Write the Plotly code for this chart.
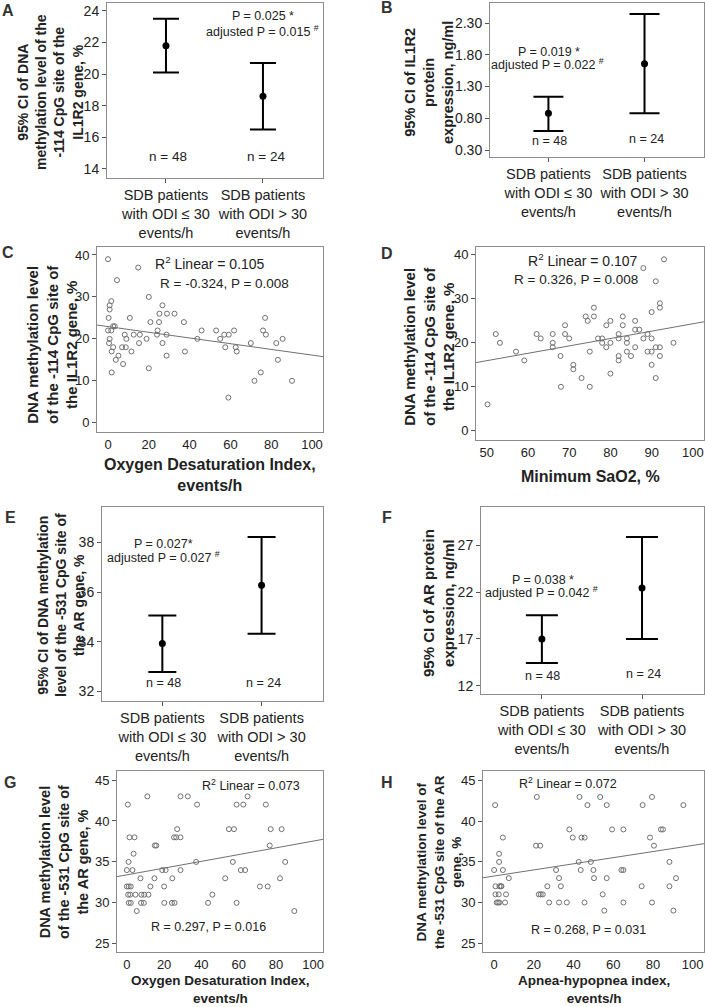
import numpy as np
import plotly.graph_objects as go

W, H = 705, 1007

# --- categorical CI panels (A, B, E, F) ---
groups = ["SDB patients<br>with ODI ≤ 30<br>events/h", "SDB patients<br>with ODI > 30<br>events/h"]
group_n = ["n = 48", "n = 24"]

a_mean = [21.8, 18.6]
a_low = [20.1, 16.5]
a_high = [23.5, 20.7]

b_mean = [0.88, 1.66]
b_low = [0.60, 0.88]
b_high = [1.14, 2.44]

e_mean = [33.93, 36.27]
e_low = [32.79, 34.32]
e_high = [35.06, 38.21]

f_mean = [16.99, 22.44]
f_low = [14.42, 17.00]
f_high = [19.52, 27.89]

a_ticks = [14, 16, 18, 20, 22, 24]
b_ticks = [0.30, 0.80, 1.30, 1.80, 2.30]
e_ticks = [32, 34, 36, 38]
f_ticks = [12, 17, 22, 27]

# --- scatter panels (C, D, G, H) ---
c_odi = [0, 14.8, 4.4, 20, 1.6, 0.8, 0.8, 26.7, 0.3, 10.7, 25.2, 28.9, 32.6, 25, 20.8, 37.2,
         0, 1.6, 2.5, 3.3, 24.3, 45.9, 53, 61.8, 76, 8.2, 12.6, 15.6, 24, 28.7, 57, 59.2, 77.4,
         0.8, 9, 18.9, 43.8, 55, 85.6, 0.5, 15.2, 26.7, 70, 82.5, 2.5, 6.9, 8.7, 57.5, 62.6, 77,
         1.8, 11.5, 37.7, 63.1, 5.1, 28.7, 3.8, 83.3, 7.4, 20, 1.8, 74.9, 71.8, 90.2, 59]
c_meth = [39, 37, 34, 30, 29, 28, 27, 28, 25, 25, 26, 26, 26, 24, 24, 24,
          22, 22, 23, 23, 22, 22, 22, 22, 22, 21, 21, 21, 21, 21, 21, 21, 21,
          20, 20, 20, 20, 20, 20, 19, 19, 19, 19, 19, 18, 18, 18, 18, 18, 25,
          17, 17, 17, 17, 16, 16, 15, 15, 14, 13, 12, 12, 10, 10, 6]

d_sao2 = [50.2, 52.2, 53.2, 57.1, 59.1, 62.1, 63.1, 66, 66, 66, 67.9, 68, 69, 69, 70, 71, 71,
          73, 74, 74.5, 75, 75, 76, 76, 77, 78, 78, 79, 79, 80, 80, 80, 82, 82, 82, 82, 83, 83,
          84, 84, 84, 85, 86, 86, 87, 86, 88, 88, 89, 89, 90, 90, 90, 90, 91, 91, 91, 92, 92,
          92, 92, 93, 95.3]
d_meth = [6, 22, 20, 18, 16, 22, 21, 22, 20, 19, 17, 10, 24, 22, 21, 15, 14,
          12, 26, 25, 18, 10, 28, 26, 21, 21, 20, 24, 19, 25, 20, 13, 22, 21, 17, 16, 26, 24,
          21, 20, 18, 17, 25, 23, 23, 19, 37, 21, 22, 18, 27, 21, 18, 15, 34, 19, 12, 29, 28,
          19, 17, 39, 20]

g_odi = [11, 28.8, 32.7, 64.8, 0.5, 37.7, 58.9, 62.5, 74.6, 27, 54.8, 57.5, 77.2, 83.1,
         1.4, 4.1, 25.3, 26.5, 28.8, 15, 15.8, 76.7, 3.6, 0.9, 37.2, 56.9, 85, 0, 3, 19, 20.8,
         28.8, 61.2, 63.5, 7.3, 14.8, 24.4, 52.8, 82.2, 0, 1, 2.1, 12.6, 20, 71.4, 75.6,
         0.7, 1.8, 4.6, 7.8, 9.3, 11.6, 45.9, 1, 2.1, 7.6, 9.1, 20.1, 24.2, 25.6, 43.6, 58.9,
         5.3, 89.9]
g_meth = [43, 43, 43, 43, 42, 42, 42, 42, 42, 39, 39, 39, 39, 39,
          38, 38, 38, 38, 38, 37, 37, 37, 36, 35, 35, 35, 35, 34, 34, 34, 34,
          34, 34, 34, 33, 33, 33, 33, 33, 32, 32, 32, 32, 32, 32, 32,
          31, 31, 31, 31, 31, 31, 31, 30, 30, 30, 30, 30, 30, 30, 30, 30,
          29, 29]

h_ahi = [0.5, 21.5, 43, 53.4, 79.5, 47, 56.7, 74.8, 95.3, 37.9, 59.4, 65.1, 84, 85,
         4.4, 39.6, 44, 45.6, 78.5, 21.1, 23.2, 80.5, 2.5, 2.5, 42.6, 48.7, 88.3,
         0, 4.4, 31.2, 43.6, 50, 64.1, 65.1, 7.4, 32.7, 50.3, 56.7, 91.6,
         0.7, 2.7, 3.4, 3.7, 26.8, 33.6, 74.3, 88.3, 0.7, 2.3, 6, 22.5, 23.5, 24.5, 54.7,
         1.3, 2, 2.7, 5.5, 27.7, 32.7, 36.6, 45.5, 65.1, 79.5, 55.5, 90.3]
h_meth = [42, 43, 43, 43, 43, 42, 42, 42, 42, 39, 39, 39, 39, 39,
          38, 38, 38, 38, 38, 37, 37, 37, 36, 35, 35, 35, 35,
          34, 34, 34, 34, 34, 34, 34, 33, 33, 33, 33, 33,
          32, 32, 32, 32, 32, 32, 32, 32, 31, 31, 31, 31, 31, 31, 31,
          30, 30, 30, 30, 30, 30, 30, 30, 30, 30, 29, 29]

# fitted lines: (intercept, slope)
c_fit = (22.93, -0.068)
d_fit = (7.54, 0.168)
g_fit = (33.42, 0.0412)
h_fit = (33.26, 0.0377)

FONT = "Liberation Sans"
TXT = "#222222"
FRAME = "#8c8c8c"


def xd(l, r):
    return [l / W, r / W]


def yd(t, b):
    return [1 - b / H, 1 - t / H]


def px(x, y):
    return x / W, 1 - y / H


fig = go.Figure()
annos = []


def note(x, y, text, size, bold=False, angle=0, color=TXT):
    xx, yy = px(x, y)
    if bold:
        text = "<b>" + text + "</b>"
    annos.append(dict(x=xx, y=yy, xref="paper", yref="paper", text=text, showarrow=False,
                      xanchor="center", yanchor="middle", textangle=angle,
                      font=dict(family=FONT, size=size, color=color)))


def base_axes(n, box, xr, yr, yticks, yfmt=None, cat=False):
    l, r, t, b = box
    ax = dict(domain=xd(l, r), range=xr, showline=True, mirror=True, linecolor=FRAME,
              linewidth=1, showgrid=False, zeroline=False, anchor="y%d" % n)
    ay = dict(domain=yd(t, b), range=yr, showline=True, mirror=True, linecolor=FRAME,
              linewidth=1, showgrid=False, zeroline=False, anchor="x%d" % n,
              tickvals=yticks, ticks="outside", ticklen=4, tickcolor="#555",
              tickfont=dict(family=FONT, size=14 if cat else 13, color=TXT))
    if yfmt:
        ay["ticktext"] = [format(v, yfmt) for v in yticks]
    if cat:
        ax.update(tickvals=[0, 1], ticktext=groups, ticks="outside", ticklen=4, tickcolor="#555",
                  tickfont=dict(family=FONT, size=14.5, color=TXT))
    else:
        ax.update(tickvals=[0, 20, 40, 60, 80, 100] if n != 4 else [50, 60, 70, 80, 90, 100],
                  ticks="", tickfont=dict(family=FONT, size=13, color=TXT))
    key = "" if n == 1 else str(n)
    fig.layout["xaxis" + key] = ax
    fig.layout["yaxis" + key] = ay


def ci_panel(n, box, yr, yticks, mean, low, high, cap, yfmt=None):
    base_axes(n, box, [-0.608, 1.619], yr, yticks, yfmt, cat=True)
    up = [h - m for h, m in zip(high, mean)]
    dn = [m - lo for m, lo in zip(mean, low)]
    fig.add_trace(go.Scatter(x=[0, 1], y=mean, mode="markers",
                             marker=dict(color="black", size=7),
                             error_y=dict(type="data", symmetric=False, array=up, arrayminus=dn,
                                          color="black", thickness=2, width=cap),
                             xaxis="x%d" % n, yaxis="y%d" % n, hoverinfo="skip"))


def scatter_panel(n, box, xr, yr, yticks, xs, ys, fit):
    base_axes(n, box, xr, yr, yticks)
    fig.add_trace(go.Scatter(x=xs, y=ys, mode="markers",
                             marker=dict(symbol="circle-open", size=5, color="#707070",
                                         line=dict(width=1)),
                             xaxis="x%d" % n, yaxis="y%d" % n))
    lx = np.array(xr)
    fig.add_trace(go.Scatter(x=lx, y=fit[0] + fit[1] * lx, mode="lines",
                             line=dict(color="#707070", width=1),
                             xaxis="x%d" % n, yaxis="y%d" % n))


# A
ci_panel(1, (107, 323, 3, 178), [13.43, 24.5], a_ticks, a_mean, a_low, a_high, 13)
# B
ci_panel(2, (490, 704, 3, 157), [0.19, 2.615], b_ticks, b_mean, b_low, b_high, 15, ".2f")
# C
scatter_panel(3, (97, 323, 247, 432), [-5.4, 105.4], [-2.2, 41.9], [0, 10, 20, 30, 40],
              c_odi, c_meth, c_fit)
# D
scatter_panel(4, (476, 704, 247, 440), [47.4, 102.7], [-2.1, 41.8], [0, 10, 20, 30, 40],
              d_sao2, d_meth, d_fit)
# E
ci_panel(5, (102, 323, 507, 701), [31.62, 39.42], e_ticks, e_mean, e_low, e_high, 14)
# F
ci_panel(6, (481, 704, 507, 694), [11.11, 31.1], f_ticks, f_mean, f_low, f_high, 16)
# G
scatter_panel(7, (117, 323, 771, 952), [-5.3, 105.3], [24.0, 46.1], [25, 30, 35, 40, 45],
              g_odi, g_meth, g_fit)
# H
scatter_panel(8, (483, 704, 771, 952), [-5.6, 105.7], [23.9, 46.2], [25, 30, 35, 40, 45],
              h_ahi, h_meth, h_fit)

# panel letters
for letter, x, y in [("A", 8, 10), ("B", 387, 8), ("C", 8, 252), ("D", 387, 253),
                     ("E", 10, 517), ("F", 387, 517), ("G", 10, 782), ("H", 387, 782)]:
    note(x, y, letter, 16, bold=True, color="#333333")

# y-axis titles
note(51, 92, "95% CI of DNA<br>methylation level of the<br>-114 CpG site of the<br>IL1R2 gene, %", 14, True, -90)
note(429, 83, "95% CI of IL1R2<br>protein<br>expression, ng/ml", 14.5, True, -90)
note(52, 345, "DNA methylation level<br>of the -114 CpG site of<br>the IL1R2 gene, %", 15, True, -90)
note(429, 347, "DNA methylation level<br>of the -114 CpG site of<br>the IL1R2 gene, %", 15, True, -90)
note(61, 605, "95% CI of DNA methylation<br>level of the -531 CpG site of<br>the AR gene, %", 14, True, -90)
note(438, 603, "95% CI of AR protein<br>expression, ng/ml", 15, True, -90)
note(64, 862, "DNA methylation level<br>of the -531 CpG site of<br>the AR gene, %", 14.5, True, -90)
note(439, 862, "DNA methylation level of<br>the -531 CpG site of the AR<br>gene, %", 13.5, True, -90)

# x-axis titles of scatter panels
note(210, 475, "Oxygen Desaturation Index,<br>events/h", 16, True)
note(590, 477, "Minimum SaO2, %", 16, True)
note(220, 989.5, "Oxygen Desaturation Index,<br>events/h", 13.5, True)
note(594, 989.5, "Apnea-hypopnea index,<br>events/h", 13.5, True)

# statistics inside the panels
note(263, 16, "P = 0.025 *", 12.5)
note(262, 31, "adjusted P = 0.015 <sup>#</sup>", 12.5)
note(168, 156, group_n[0], 13.5)
note(266, 156, group_n[1], 13.5)

note(549, 52, "P = 0.019 *", 12.5)
note(547, 64, "adjusted P = 0.022 <sup>#</sup>", 12.5)
note(549, 141, group_n[0], 12.5)
note(646, 139, group_n[1], 12.5)

note(210, 263, "R<sup>2</sup> Linear = 0.105", 14)
note(224, 283, "R = -0.324, P = 0.008", 13.5)
note(583, 260, "R<sup>2</sup> Linear = 0.107", 14)
note(576, 279, "R = 0.326, P = 0.008", 13.5)

note(163, 544, "P = 0.027*", 12.5)
note(163, 557, "adjusted P = 0.027 <sup>#</sup>", 12.5)
note(163, 683, group_n[0], 12.5)
note(263, 683, group_n[1], 12.5)

note(543, 580, "P = 0.038 *", 12.5)
note(541, 592, "adjusted P = 0.042 <sup>#</sup>", 12.5)
note(542, 676, group_n[0], 12.5)
note(643, 674, group_n[1], 12.5)

note(251, 785, "R<sup>2</sup> Linear = 0.073", 12.5)
note(208, 927, "R = 0.297, P = 0.016", 12.5)
note(568, 783, "R<sup>2</sup> Linear = 0.072", 12.5)
note(588, 930, "R = 0.268, P = 0.031", 12.5)

fig.update_layout(width=W, height=H, margin=dict(l=0, r=0, t=0, b=0),
                  paper_bgcolor="white", plot_bgcolor="white", showlegend=False,
                  annotations=annos, font=dict(family=FONT, color=TXT))
# the page's default body margin would shift the whole figure by 8px
fig.write_html("out.html", config={"displayModeBar": False},
               post_script="document.body.style.margin='0';")
